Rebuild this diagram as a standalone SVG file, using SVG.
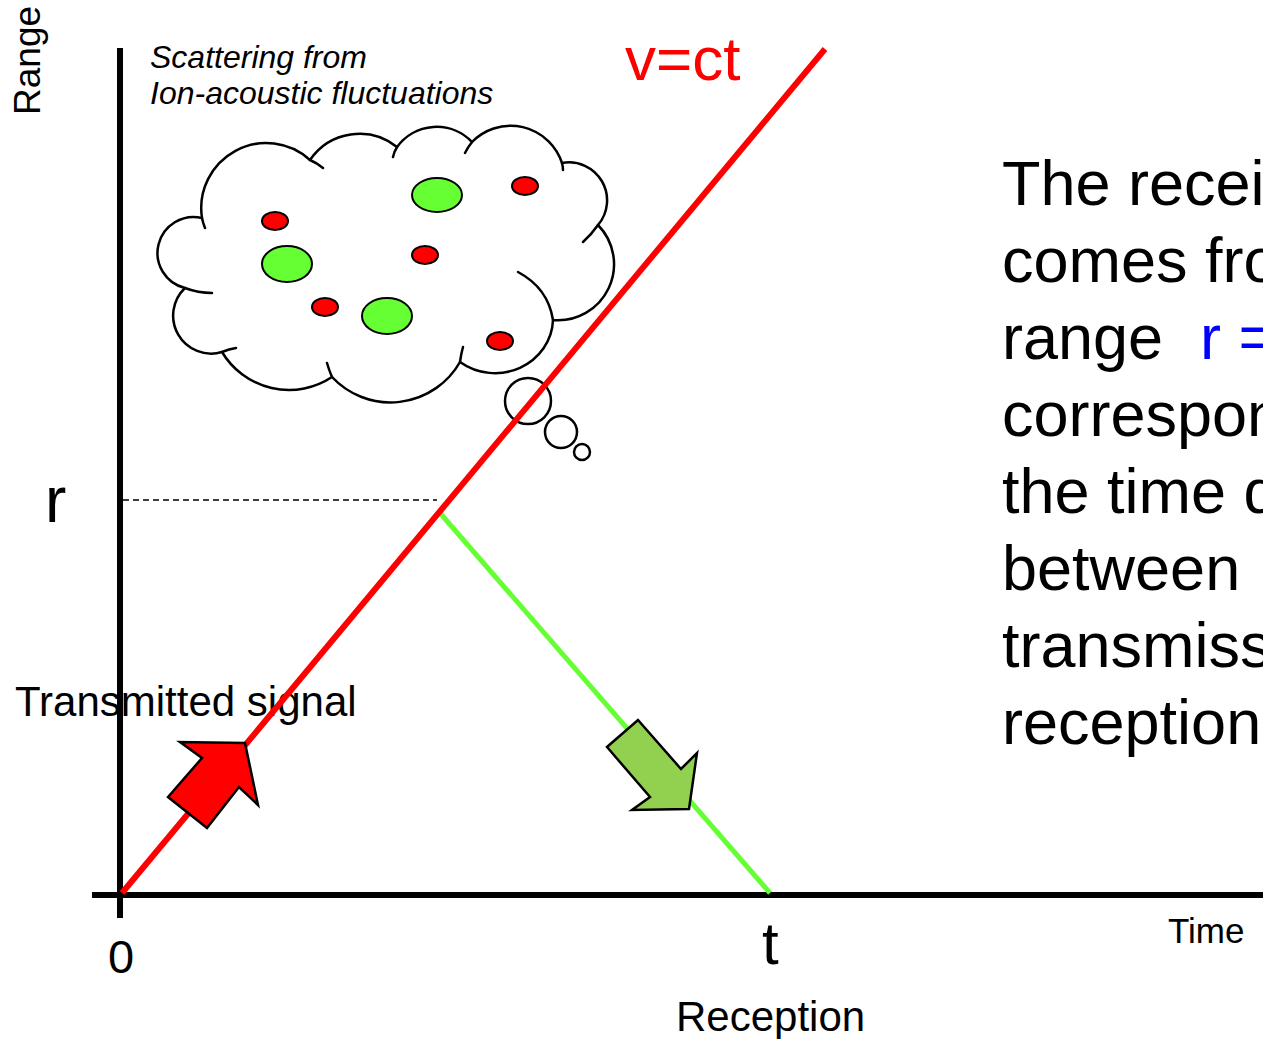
<svg xmlns="http://www.w3.org/2000/svg" width="1263" height="1039" viewBox="0 0 1263 1039">
  <style>
    text { font-family: "Liberation Sans", Arial, sans-serif; fill: #000; }
    .ital { font-style: italic; font-size: 32px; }
    .body { font-size: 63px; }
    .outline { fill: none; stroke: #000; stroke-width: 2.5; stroke-linecap: round; }
    .ion { fill: #ff0000; stroke: #000; stroke-width: 2; }
    .wave { fill: #66ff33; stroke: #000; stroke-width: 2; }
    .bubble { fill: #fff; stroke: #000; stroke-width: 2.5; }
  </style>

  <!-- axis labels -->
  <g id="labels">
    <text font-size="37" transform="translate(40,115) rotate(-90)">Range</text>
    <text class="ital" x="150" y="68">Scattering from</text>
    <text class="ital" x="150" y="104">Ion-acoustic fluctuations</text>
    <text x="625" y="80" font-size="62" style="fill:#ff0000">v=ct</text>
    <text x="45" y="522" font-size="64">r</text>
    <text x="15" y="716" font-size="42">Transmitted signal</text>
    <text x="108" y="973" font-size="47">0</text>
    <text x="762" y="964" font-size="60">t</text>
    <text x="1168" y="943" font-size="35">Time</text>
    <text x="676" y="1031" font-size="42">Reception</text>
  </g>

  <!-- explanation block -->
  <g id="explanation" class="body">
    <text class="body" x="1002" y="205">The recei</text>
    <text class="body" x="1002" y="282">comes fro</text>
    <text class="body" x="1002" y="359">range<tspan x="1200" style="fill:#0000ff">r =</tspan></text>
    <text class="body" x="1002" y="436">correspon</text>
    <text class="body" x="1002" y="513">the time d</text>
    <text class="body" x="1002" y="590">between</text>
    <text class="body" x="1002" y="667">transmiss</text>
    <text class="body" x="1002" y="744">reception</text>
  </g>

  <!-- scattering cloud -->
  <g id="cloud">
    <path fill="#fff" stroke="#000" stroke-width="2.5" stroke-linejoin="round"
          d="M185,288 A36,36 0 0 1 202,218 A65,65 0 0 1 310,160 A60,60 0 0 1 397,147
             A49,49 0 0 1 472,142 A54,54 0 0 1 562,163 A38,38 0 0 1 598,225
             A56,56 0 0 1 553,320 A58,55 0 0 1 460,362 A80,80 0 0 1 332,377
             A78,78 0 0 1 222,352 A38,38 0 0 1 185,288 Z"/>
    <path class="outline"
          d="M185,288 Q198,293 212,293
             M202,218 Q203,223 205,228
             M310,160 Q317,163 323,168
             M397,147 Q394,152 393,157
             M472,142 Q468,147 465,153
             M562,163 Q563,167 563,170
             M598,225 Q591,235 583,242
             M518,272 Q548,288 553,320
             M460,362 Q461,354 463,347
             M332,377 Q329,370 327,363
             M222,352 Q229,349 236,348"/>
    <ellipse class="wave" cx="437" cy="195" rx="25" ry="17"/>
    <ellipse class="wave" cx="287" cy="264" rx="25" ry="18"/>
    <ellipse class="wave" cx="387" cy="316" rx="25" ry="18"/>
    <ellipse class="ion" cx="275" cy="221" rx="13" ry="9"/>
    <ellipse class="ion" cx="525" cy="186" rx="13" ry="9"/>
    <ellipse class="ion" cx="425" cy="255" rx="13" ry="9"/>
    <ellipse class="ion" cx="325" cy="307" rx="13" ry="9"/>
    <ellipse class="ion" cx="500" cy="341" rx="13" ry="9"/>
  </g>

  <g id="thought-bubbles">
    <circle class="bubble" cx="528" cy="401" r="23"/>
    <circle class="bubble" cx="561" cy="432" r="16"/>
    <circle class="bubble" cx="582" cy="452" r="8"/>
  </g>

  <!-- axes and signal paths -->
  <g id="connectors">
    <line x1="123" y1="500" x2="437" y2="500" stroke="#000" stroke-width="1.5" stroke-dasharray="6,4"/>
    <line x1="120" y1="48" x2="120" y2="918" stroke="#000" stroke-width="6"/>
    <line x1="92" y1="895" x2="1263" y2="895" stroke="#000" stroke-width="6"/>
    <line x1="440" y1="513" x2="770" y2="893" stroke="#66ff33" stroke-width="5"/>
    <line x1="122" y1="893" x2="825" y2="49" stroke="#ff0000" stroke-width="6"/>
  </g>

  <!-- direction arrows -->
  <g id="transmit-arrow">
    <polygon points="245,743 258,805 239,787 207,828 168,797 202,758 180,742"
             fill="#ff0000" stroke="#000" stroke-width="2.5" stroke-linejoin="miter"/>
  </g>
  <g id="receive-arrow">
    <polygon points="638,720 681,769 697,753 689,809 632,810 650,797 607,747"
             fill="#92d050" stroke="#000" stroke-width="2.5" stroke-linejoin="miter"/>
  </g>
</svg>
